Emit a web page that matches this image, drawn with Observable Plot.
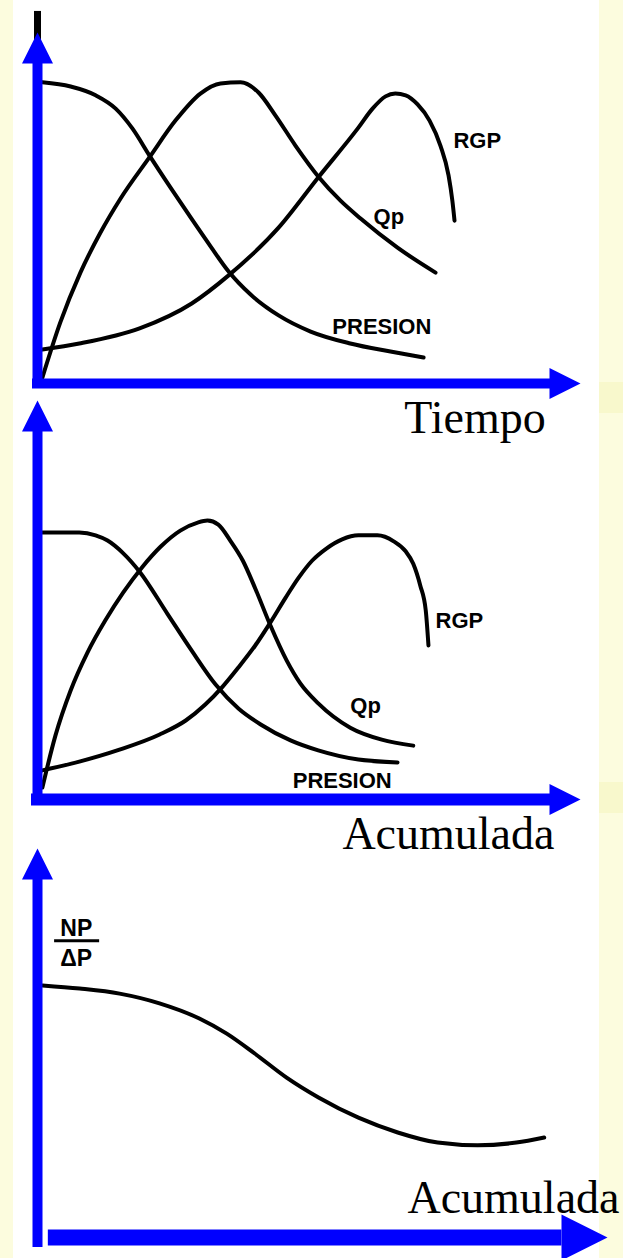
<!DOCTYPE html>
<html>
<head>
<meta charset="utf-8">
<script src="https://cdn.jsdelivr.net/npm/d3@7"></script>
<script src="https://cdn.jsdelivr.net/npm/@observablehq/plot@0.6"></script>
<style>
  html, body { margin: 0; padding: 0; background: #fcfcde; }
  #page { position: relative; width: 623px; height: 1258px; background: #fcfcde; overflow: hidden; }
  #sheet { position: absolute; left: 13px; top: 0; width: 586px; height: 1258px; background: #ffffff; }
  .band { position: absolute; left: 599px; width: 24px; height: 31px; background: #f8f8cc; }
  #page svg { position: absolute; left: 0; top: 0; }
</style>
</head>
<body>
<div id="page">
  <div id="sheet"></div>
  <div class="band" style="top:382px"></div>
  <div class="band" style="top:782px"></div>
</div>
<script>
// ---------- DATA (x, y in axis units: 0..100 along each axis) ----------
const seriesNames = ["PRESION", "Qp", "RGP"];
const xTitles = ["Tiempo", "Acumulada", "Acumulada"];
const yTitle3 = ["NP", "ΔP"];

// Panel 1: vs Tiempo
const tiempoPresion = [[0.9,85.8],[6.1,84.6],[10.7,82.1],[14.4,78.3],[17.5,72.6],[20.6,65.0],[24.5,55.8],[28.2,47.3],[31.9,39.0],[35.2,31.9],[39.2,25.4],[44.4,19.4],[50.3,14.8],[57.6,11.4],[65.0,9.1],[71.1,7.4]];
const tiempoQp = [[0.9,1.7],[4.2,17.4],[7.9,31.6],[11.6,43.0],[15.3,52.7],[20.6,64.4],[25.4,74.9],[30.0,82.6],[33.7,85.5],[37.4,85.8],[40.7,82.9],[43.8,76.4],[47.5,67.8],[51.7,59.0],[55.8,52.1],[59.5,47.0],[66.3,38.7],[73.3,31.6]];
const tiempoRgp = [[0.9,9.7],[7.7,11.4],[18.8,15.7],[28.4,22.8],[35.2,30.8],[44.4,44.4],[51.7,58.7],[59.1,72.9],[61.7,78.3],[64.1,81.8],[65.9,82.6],[67.8,82.1],[70.0,79.5],[72.2,74.9],[74.2,67.8],[75.7,59.3],[76.4,52.1],[76.8,46.4]];

// Panel 2: vs Acumulada
const acumPresion = [[0.9,66.9],[7.7,66.9],[10.7,66.2],[12.9,64.9],[15.8,61.7],[18.8,57.1],[23.9,46.6],[28.4,37.3],[32.8,28.8],[37.0,22.8],[41.1,18.8],[46.6,14.8],[51.7,12.3],[59.1,10.0],[66.3,9.3]];
const acumQp = [[0.9,3.0],[3.3,16.0],[6.1,27.3],[9.2,36.8],[12.5,44.9],[15.8,51.9],[19.2,58.1],[22.7,63.4],[26.3,67.4],[29.5,69.4],[31.3,69.9],[33.3,68.9],[35.5,64.9],[37.8,59.9],[40.1,52.9],[42.9,43.6],[45.9,34.8],[48.4,29.1],[51.7,24.1],[57.6,18.0],[63.4,15.0],[69.2,13.5]];
const acumRgp = [[0.9,7.3],[7.7,9.5],[15.1,12.5],[22.5,16.3],[27.3,19.8],[30.9,23.8],[34.1,28.3],[37.0,33.1],[40.1,38.6],[42.9,44.4],[45.7,50.6],[48.1,55.6],[50.6,59.9],[53.2,62.9],[56.1,65.2],[59.1,66.2],[62.6,66.2],[65.6,64.7],[67.8,62.2],[69.2,59.1],[70.5,53.6],[71.5,47.4],[72.0,38.6]];

// Panel 3: NP/ΔP vs Acumulada
const acumNpDp = [[0.9,64.8],[7.4,64.0],[14.4,62.7],[21.4,60.2],[28.4,56.3],[33.2,52.4],[38.1,47.3],[43.7,41.1],[49.3,36.0],[56.3,30.8],[63.2,27.0],[70.2,24.4],[77.2,23.7],[84.0,24.4],[88.9,25.7]];

// ---------- DRAWING ----------
const blue = "#0000ff";
const head = {
  draw(ctx, size) {
    const r = Math.sqrt(size / Math.PI);
    ctx.moveTo(0, 0);
    ctx.lineTo(-r, 2 * r);
    ctx.lineTo(r, 2 * r);
    ctx.closePath();
  }
};
const curve = (data) => Plot.line(data, {x: d => d[0], y: d => d[1], curve: "monotone-x", stroke: "black", strokeWidth: 4, strokeLinejoin: "round"});
const label = (t, x, y, size = 22) => Plot.text([t], {x, y, text: d => d, textAnchor: "start", lineAnchor: "bottom", fontFamily: "Liberation Sans, Arial, sans-serif", fontWeight: "bold", fontSize: size, fill: "black"});
const title = (t, x, y) => Plot.text([t], {x, y, text: d => d, textAnchor: "end", lineAnchor: "bottom", fontFamily: "Liberation Serif, Times New Roman, serif", fontSize: 46, fill: "black"});
const base = (yRange, xRange, marks) => Plot.plot({
  width: 623, height: 1258, margin: 0,
  style: {background: "transparent", overflow: "visible"},
  x: {axis: null, domain: [0, 100], range: xRange},
  y: {axis: null, domain: [0, 100], range: yRange},
  marks
});

// Panel 1
const p1 = base([383, 32], [37, 580], [
  curve(tiempoPresion), curve(tiempoQp), curve(tiempoRgp),
  label(seriesNames[2], 76.6, 67.2),
  label(seriesNames[1], 61.9, 45.3),
  label(seriesNames[0], 54.3, 14.2),
  title(xTitles[0], 93.6, -14.2),
  Plot.ruleX([0], {y1: 97, y2: 106, stroke: "black", strokeWidth: 7}),
  Plot.ruleX([0], {y1: 0, y2: 91, stroke: blue, strokeWidth: 10, strokeLinecap: "square"}),
  Plot.ruleY([0], {x1: 0, x2: 94, stroke: blue, strokeWidth: 10, strokeLinecap: "square"}),
  Plot.dot([0], {x: 0, y: 100, symbol: head, r: 15.5, fill: blue, stroke: "none"}),
  Plot.dot([0], {x: 100, y: 0, symbol: head, r: 15.5, rotate: 90, fill: blue, stroke: "none"})
]);

// Panel 2
const p2 = base([799, 400], [37, 580], [
  curve(acumPresion), curve(acumQp), curve(acumRgp),
  label(seriesNames[2], 73.3, 43.1),
  label(seriesNames[1], 57.6, 21.6),
  label(seriesNames[0], 47.0, 2.8),
  title(xTitles[1], 95.2, -12.3),
  Plot.ruleX([0], {y1: 0, y2: 92, stroke: blue, strokeWidth: 10, strokeLinecap: "square"}),
  Plot.ruleY([0], {x1: 0, x2: 94, stroke: blue, strokeWidth: 12, strokeLinecap: "square"}),
  Plot.dot([0], {x: 0, y: 100, symbol: head, r: 15.5, fill: blue, stroke: "none"}),
  Plot.dot([0], {x: 100, y: 0, symbol: head, r: 15.5, rotate: 90, fill: blue, stroke: "none"})
]);

// Panel 3
const p3 = base([1237, 848], [37, 607], [
  curve(acumNpDp),
  Plot.text([yTitle3[0]], {x: 6.8, y: 77.6, text: d => d, textAnchor: "middle", lineAnchor: "bottom", fontFamily: "Liberation Sans, Arial, sans-serif", fontWeight: "bold", fontSize: 23, fill: "black"}),
  Plot.ruleY([0], {y: 76.3, x1: 3.0, x2: 10.9, stroke: "black", strokeWidth: 3}),
  Plot.text([yTitle3[1]], {x: 6.8, y: 69.9, text: d => d, textAnchor: "middle", lineAnchor: "bottom", fontFamily: "Liberation Sans, Arial, sans-serif", fontWeight: "bold", fontSize: 23, fill: "black"}),
  title(xTitles[2], 102.1, 6.2),
  Plot.ruleX([0], {y1: 84, y2: 91, stroke: "black", strokeWidth: 8}),
  Plot.ruleX([0], {y1: -1.3, y2: 91, stroke: blue, strokeWidth: 10, strokeLinecap: "square"}),
  Plot.ruleY([0], {x1: 1.9, x2: 92, stroke: blue, strokeWidth: 16}),
  Plot.dot([0], {x: 0, y: 100, symbol: head, r: 15.5, fill: blue, stroke: "none"}),
  Plot.dot([0], {x: 100, y: 0, symbol: head, r: 23, rotate: 90, fill: blue, stroke: "none"})
]);

const page = document.getElementById("page");
page.appendChild(p1);
page.appendChild(p2);
page.appendChild(p3);
</script>
</body>
</html>
